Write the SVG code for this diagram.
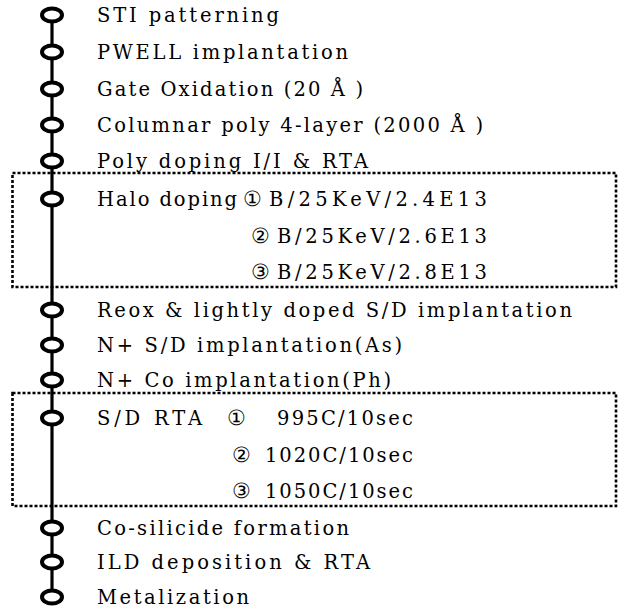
<svg xmlns="http://www.w3.org/2000/svg" width="624" height="612" viewBox="0 0 624 612">
<style>
text{font-family:"DejaVu Serif","Liberation Serif",serif;font-size:19.5px;fill:#000}
.c{font-size:21px}
.n{fill:#fff;stroke:#000;stroke-width:4}
.box{fill:none;stroke:#000;stroke-width:2.6;stroke-dasharray:3 2}
.ln{stroke:#000;stroke-width:3.2;fill:none}
</style>
<rect width="624" height="612" fill="#fff"/>
<g id="connectors">
<line class="ln" x1="52" y1="15" x2="52" y2="597"/>
<rect class="box" x="12.5" y="173" width="603.5" height="114"/>
<rect class="box" x="12.5" y="393" width="603.5" height="113"/>
</g>
<g id="n1"><ellipse class="n" cx="52" cy="15" rx="10" ry="6.5"/><text x="97" y="21.5" textLength="182" lengthAdjust="spacing">STI patterning</text></g>
<g id="n2"><ellipse class="n" cx="52" cy="52" rx="10" ry="6.5"/><text x="97" y="58.5" textLength="251" lengthAdjust="spacing">PWELL implantation</text></g>
<g id="n3"><ellipse class="n" cx="52" cy="89" rx="10" ry="6.5"/><text x="97" y="95.5" textLength="266" lengthAdjust="spacing">Gate Oxidation (20 Å )</text></g>
<g id="n4"><ellipse class="n" cx="52" cy="125" rx="10" ry="6.5"/><text x="97" y="131.5" textLength="386" lengthAdjust="spacing">Columnar poly 4-layer (2000 Å )</text></g>
<g id="n5"><ellipse class="n" cx="52" cy="161" rx="10" ry="6.5"/><text x="97" y="167.5" textLength="271" lengthAdjust="spacing">Poly doping I/I &amp; RTA</text></g>
<g id="n6"><ellipse class="n" cx="52" cy="199" rx="10" ry="6.5"/>
<text x="97" y="205.5" textLength="140" lengthAdjust="spacing">Halo doping</text>
<text class="c" x="243" y="205.5">①</text>
<text x="269" y="205.5" textLength="218" lengthAdjust="spacing">B/25KeV/2.4E13</text>
<text class="c" x="251" y="242.5">②</text>
<text x="277" y="242.5" textLength="210" lengthAdjust="spacing">B/25KeV/2.6E13</text>
<text class="c" x="251" y="278.5">③</text>
<text x="277" y="278.5" textLength="210" lengthAdjust="spacing">B/25KeV/2.8E13</text>
</g>
<g id="n7"><ellipse class="n" cx="52" cy="310" rx="10" ry="6.5"/><text x="97" y="316.5" textLength="475" lengthAdjust="spacing">Reox &amp; lightly doped S/D implantation</text></g>
<g id="n8"><ellipse class="n" cx="52" cy="345" rx="10" ry="6.5"/><text x="97" y="351.5" textLength="305" lengthAdjust="spacing">N+ S/D implantation(As)</text></g>
<g id="n9"><ellipse class="n" cx="52" cy="380" rx="10" ry="6.5"/><text x="97" y="386.5" textLength="294" lengthAdjust="spacing">N+ Co implantation(Ph)</text></g>
<g id="n10"><ellipse class="n" cx="52" cy="418" rx="10" ry="6.5"/>
<text x="97" y="425" textLength="105" lengthAdjust="spacing">S/D RTA</text>
<text class="c" x="227" y="425">①</text>
<text x="277" y="425" textLength="136" lengthAdjust="spacing">995C/10sec</text>
<text class="c" x="232" y="462">②</text>
<text x="265" y="462" textLength="148" lengthAdjust="spacing">1020C/10sec</text>
<text class="c" x="232" y="498">③</text>
<text x="265" y="498" textLength="148" lengthAdjust="spacing">1050C/10sec</text>
</g>
<g id="n11"><ellipse class="n" cx="52" cy="528" rx="10" ry="6.5"/><text x="97" y="534.5" textLength="252" lengthAdjust="spacing">Co-silicide formation</text></g>
<g id="n12"><ellipse class="n" cx="52" cy="562" rx="10" ry="6.5"/><text x="97" y="568.5" textLength="273" lengthAdjust="spacing">ILD deposition &amp; RTA</text></g>
<g id="n13"><ellipse class="n" cx="52" cy="597" rx="10" ry="6.5"/><text x="97" y="603.5" textLength="152" lengthAdjust="spacing">Metalization</text></g>
</svg>
